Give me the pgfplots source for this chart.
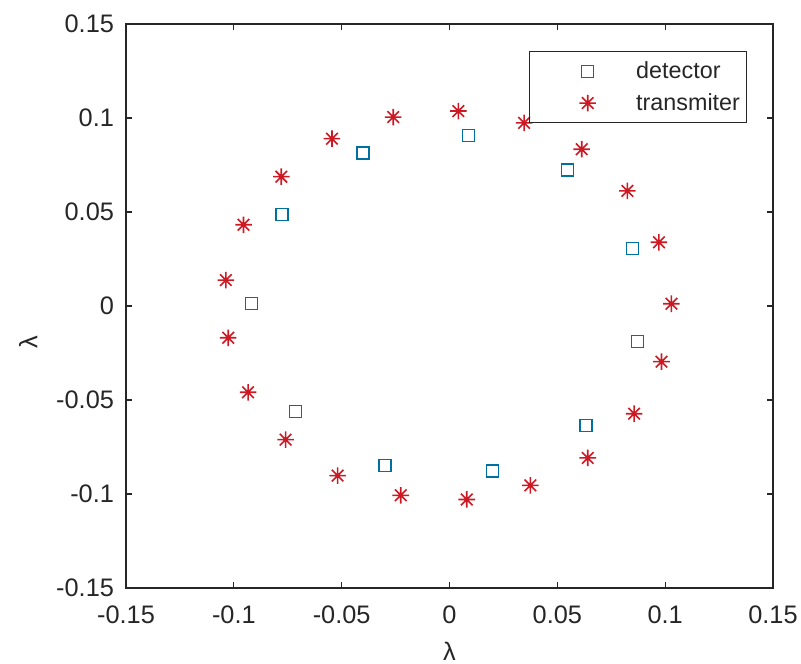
\documentclass[border=0pt]{standalone}
\usepackage{fontspec}
\setmainfont{Liberation Sans}
\usepackage{pgfplots}
\pgfplotsset{compat=1.18}

\definecolor{detblue}{RGB}{0,112,160}
\definecolor{trred}{RGB}{205,25,35}
\definecolor{axgray}{RGB}{38,38,38}

% matlab style 8-arm asterisk
\pgfdeclareplotmark{mstar}{%
  \pgfpathmoveto{\pgfqpoint{-\pgfplotmarksize}{0pt}}%
  \pgfpathlineto{\pgfqpoint{\pgfplotmarksize}{0pt}}%
  \pgfpathmoveto{\pgfqpoint{0pt}{-\pgfplotmarksize}}%
  \pgfpathlineto{\pgfqpoint{0pt}{\pgfplotmarksize}}%
  \pgfpathmoveto{\pgfqpoint{-0.7\pgfplotmarksize}{-0.7\pgfplotmarksize}}%
  \pgfpathlineto{\pgfqpoint{0.7\pgfplotmarksize}{0.7\pgfplotmarksize}}%
  \pgfpathmoveto{\pgfqpoint{-0.7\pgfplotmarksize}{0.7\pgfplotmarksize}}%
  \pgfpathlineto{\pgfqpoint{0.7\pgfplotmarksize}{-0.7\pgfplotmarksize}}%
  \pgfusepathqstroke}

\pgfplotsset{
  mleg/.style={legend image code/.code={%
    \path (0pt,-11.5pt) (74pt,11.5pt);
    \draw[##1] plot[only marks] coordinates {(40pt,0pt)};}},
}

\begin{document}
\begin{tikzpicture}
\path[use as bounding box] (-94.5pt,-57pt) rectangle (506.25pt,441pt);
\begin{axis}[
    scale only axis,
    width=485.25pt, height=423pt,
    xmin=-0.15, xmax=0.15, ymin=-0.15, ymax=0.15,
    xtick={-0.15,-0.1,-0.05,0,0.05,0.1,0.15},
    ytick={-0.15,-0.1,-0.05,0,0.05,0.1,0.15},
    scaled ticks=false,
    /pgf/number format/fixed,
    /pgf/number format/precision=2,
    /pgf/number format/assume math mode=true,
    tick align=inside,
    major tick length=4.5pt,
    axis line style={axgray, line width=0.9pt},
    tick style={axgray, line width=0.8pt},
    ticklabel style={font=\fontsize{19}{21}\selectfont, text=axgray},
    xticklabel style={yshift=-9.5pt},
    yticklabel style={xshift=-5.5pt},
    xlabel={λ}, ylabel={λ},
    label style={font=\fontsize{19}{21}\selectfont, text=axgray},
    xlabel style={at={(rel axis cs:0.5,-0.112)}, anchor=center},
    ylabel style={at={(rel axis cs:-0.151,0.435)}, anchor=center},
    legend style={at={(0.96,0.952)}, anchor=north east, draw=axgray,
        fill=none, line width=0.75pt, text=axgray,
        font=\fontsize{17.5}{20}\selectfont,
        inner xsep=3pt, inner ysep=3pt},
    legend cell align=left,
]
\addplot[only marks, mark=square, mark size=4.5pt, color=detblue,
    mark options={line width=1.1pt}, mleg]
table {
x y
-0.0917 0.0012
-0.0776 0.0488
-0.0400 0.0815
0.0088 0.0908
0.0548 0.0723
0.0848 0.0305
0.0871 -0.0190
0.0633 -0.0637
0.0200 -0.0878
-0.0300 -0.0847
-0.0714 -0.0561
};
\addlegendentry{detector}

\addplot[only marks, mark=mstar, mark size=6.2pt, color=trred,
    mark options={line width=1.2pt}, mleg]
table {
x y
-0.1037 0.0138
-0.0955 0.0432
-0.0780 0.0688
-0.0545 0.0890
-0.0261 0.1005
0.0041 0.1037
0.0346 0.0974
0.0613 0.0834
0.0825 0.0612
0.0971 0.0339
0.1029 0.0012
0.0983 -0.0296
0.0856 -0.0573
0.0641 -0.0808
0.0375 -0.0954
0.0080 -0.1029
-0.0226 -0.1007
-0.0519 -0.0902
-0.0760 -0.0711
-0.0934 -0.0459
-0.1026 -0.0169
};
\addlegendentry{transmiter}
\end{axis}
\end{tikzpicture}
\end{document}
